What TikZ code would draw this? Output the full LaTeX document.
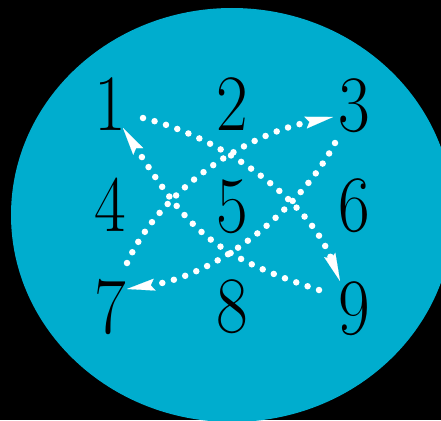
\documentclass[tikz,border=0pt]{standalone}
\usetikzlibrary{arrows.meta}
\definecolor{disc}{RGB}{0,173,206}
\newcommand\narrowdigit[1]{\scalebox{0.86}[1]{#1}}
\begin{document}
\begin{tikzpicture}[x=1pt,y=-1pt,
  digit/.style={font=\fontsize{80}{80}\selectfont, anchor=base, inner sep=0pt, text=black},
  dotarrow/.style={draw=white, line width=6.5pt, line cap=round, dash pattern=on 0pt off 12pt,
    -{Stealth[length=28pt,width=12pt,inset=4pt,line width=0.1pt]}}]
\useasboundingbox (0,0) rectangle (441,420);
\fill[black] (0,0) rectangle (441,420);
\begin{scope}
  \clip (0,0) rectangle (441,420);
  \fill[disc] (232,215) ellipse [x radius=221, y radius=207];
\end{scope}
% digits
\node[digit] (n1) at (110,130) {\narrowdigit{1}};
\node[digit] (n2) at (232,130) {\narrowdigit{2}};
\node[digit] (n3) at (354,131) {\narrowdigit{3}};
\node[digit] (n4) at (110,231) {\narrowdigit{4}};
\node[digit] (n5) at (232,232) {\narrowdigit{5}};
\node[digit] (n6) at (354,231) {\narrowdigit{6}};
\node[digit] (n7) at (110,333) {\narrowdigit{7}};
\node[digit] (n8) at (232,332) {\narrowdigit{8}};
\node[digit] (n9) at (354,334) {\narrowdigit{9}};
% arrow ends
\coordinate (a1s) at (143,118);
\coordinate (a1e) at (340,281);
\coordinate (a2s) at (319,290);
\coordinate (a2e) at (123,128);
\coordinate (a3s) at (127,263);
\coordinate (a3e) at (333,117);
\coordinate (a4s) at (335,143);
\coordinate (a4e) at (127,289);
% arrows
\draw[dotarrow] (a1s) .. controls (230,140) and (310,205) .. (a1e);
\draw[dotarrow] (a2s) .. controls (210,255) and (188,228) .. (a2e);
\draw[dotarrow] (a3s) .. controls (160,190) and (245,135) .. (a3e);
\draw[dotarrow] (a4s) .. controls (302,206) and (222,274) .. (a4e);
\end{tikzpicture}
\end{document}
